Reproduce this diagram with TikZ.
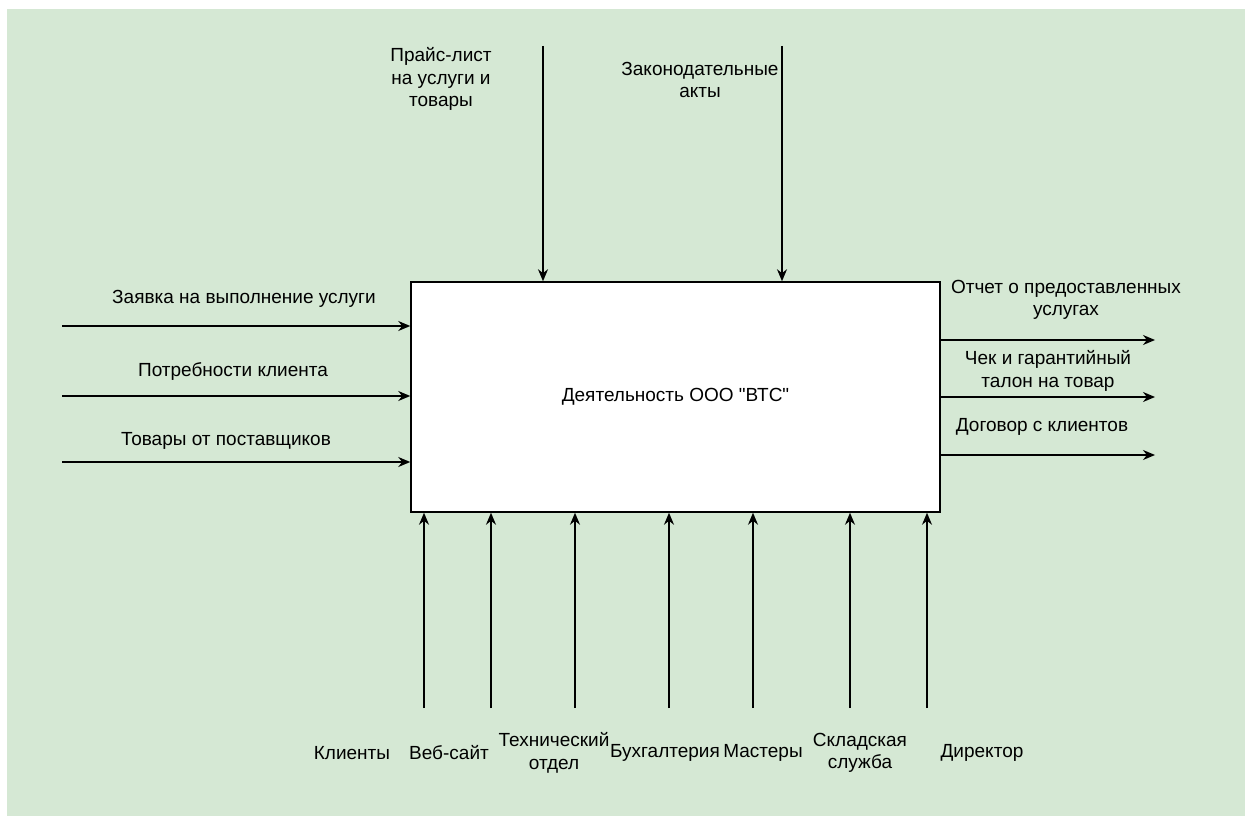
\documentclass[tikz,border=0pt]{standalone}
\usepackage{fontspec}
\setmainfont{Liberation Sans}[Ligatures=TeXOff]
\usetikzlibrary{arrows.meta}
\begin{document}
\begin{tikzpicture}[x=1pt,y=-1pt,
  lbl/.style={font=\fontsize{19}{22.5}\selectfont, align=center, inner sep=0pt},
  arr/.style={draw=black, line width=1.5pt, -{Stealth[length=12pt,width=10pt]}},
  actbox/.style={draw=black, line width=1.5pt, fill=white, minimum width=529pt, minimum height=230pt, inner sep=0pt,
    font=\fontsize{19}{22.5}\selectfont}]
  \definecolor{sheet}{HTML}{D5E8D4}
  % canvas
  \useasboundingbox (0,0) rectangle (1245,816);
  \fill[white] (0,0) rectangle (1245,816);
  \fill[sheet] (7,9) rectangle (1245,816);

  % activity box
  \node[actbox] (act) at (675.5,397) {Деятельность ООО "ВТС"};

  % free ends of the connectors
  \coordinate (c1) at (543,46);
  \coordinate (c2) at (782,46);
  \coordinate (i1) at (62,326);
  \coordinate (i2) at (62,396);
  \coordinate (i3) at (62,462);
  \coordinate (o1) at (1155,340);
  \coordinate (o2) at (1155,397);
  \coordinate (o3) at (1155,455);
  \coordinate (m1) at (424,708);
  \coordinate (m2) at (491,708);
  \coordinate (m3) at (575,708);
  \coordinate (m4) at (669,708);
  \coordinate (m5) at (753,708);
  \coordinate (m6) at (850,708);
  \coordinate (m7) at (927,708);

  % controls
  \draw[arr] (c1) -- (c1 |- act.north);
  \draw[arr] (c2) -- (c2 |- act.north);
  % inputs
  \draw[arr] (i1) -- (i1 -| act.west);
  \draw[arr] (i2) -- (i2 -| act.west);
  \draw[arr] (i3) -- (i3 -| act.west);
  % outputs
  \draw[arr] (o1 -| act.east) -- (o1);
  \draw[arr] (o2 -| act.east) -- (o2);
  \draw[arr] (o3 -| act.east) -- (o3);
  % mechanisms
  \foreach \m in {m1,m2,m3,m4,m5,m6,m7}
    \draw[arr] (\m) -- (\m |- act.south);

  % labels
  \node[lbl] (lc1) at (441,79) {Прайс-лист\\на услуги и\\товары};
  \node[lbl] (lc2) at (700,80) {Законодательные\\акты};
  \node[lbl] (li1) at (244,299) {Заявка на выполнение услуги};
  \node[lbl] (li2) at (233,372) {Потребности клиента};
  \node[lbl] (li3) at (226,441) {Товары от поставщиков};
  \node[lbl] (lo1) at (1066,300) {Отчет о предоставленных\\услугах};
  \node[lbl] (lo2) at (1048,371) {Чек и гарантийный\\талон на товар};
  \node[lbl] (lo3) at (1042,427) {Договор с клиентов};
  \node[lbl] (lm1) at (352,753) {Клиенты};
  \node[lbl] (lm2) at (449,753) {Веб-сайт};
  \node[lbl] (lm3) at (554,753) {Технический\\отдел};
  \node[lbl] (lm4) at (665,753) {Бухгалтерия};
  \node[lbl] (lm5) at (763,753) {Мастеры};
  \node[lbl] (lm6) at (860,753) {Складская\\служба};
  \node[lbl] (lm7) at (982,753) {Директор};
\end{tikzpicture}
\end{document}
